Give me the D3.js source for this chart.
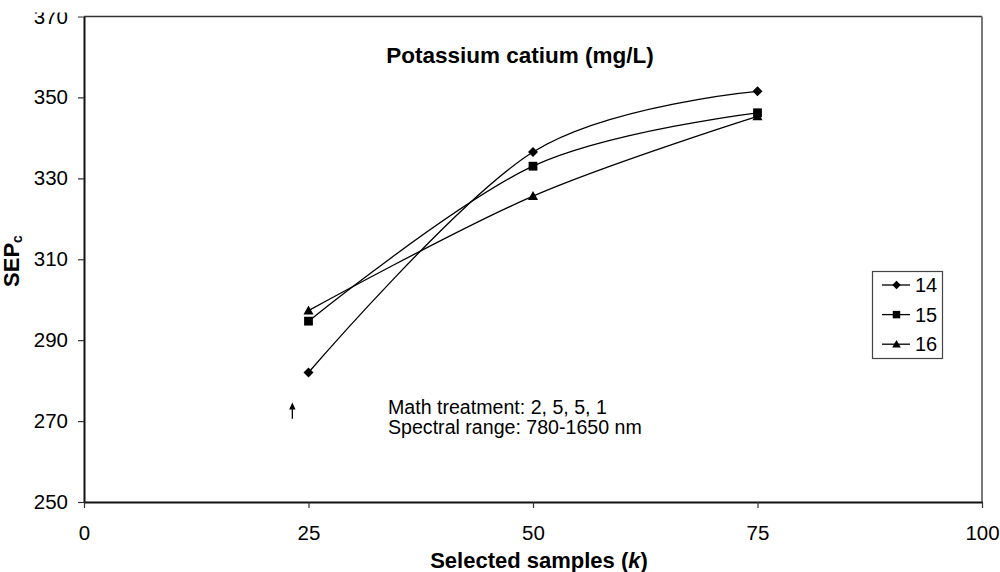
<!DOCTYPE html>
<html>
<head>
<meta charset="utf-8">
<script src="https://cdn.jsdelivr.net/npm/d3@7"></script>
<style>
  body { margin: 0; background: #fff; }
  svg { font-family: "Liberation Sans", Arial, sans-serif; }
</style>
</head>
<body>
<div id="chart"></div>
<script>
// chart values
const samples = [25, 50, 75];
const seriesNames = ["14", "15", "16"];
const sep14 = [282, 336.5, 351.5];
const sep15 = [294.7, 333, 346.2];
const sep16 = [297.3, 325.6, 345.3];
const xTicks = [0, 25, 50, 75, 100];
const yTicks = [250, 270, 290, 310, 330, 350, 370];
const notes = ["Math treatment: 2, 5, 5, 1", "Spectral range: 780-1650 nm"];
const arrowAt = [23.2, 270.6, 274.6]; // x, y from, y to

const W = 1000, H = 572;

const svg = d3.select("#chart").append("svg")
    .attr("width", W)
    .attr("height", H);

const x = d3.scaleLinear().domain([0, 100]).range([84, 982]);
const y = d3.scaleLinear().domain([250, 370]).range([502, 16.5]);

// clip for the cut-off top label (in the axis group's own coordinates)
svg.append("clipPath").attr("id", "topcut")
  .append("rect").attr("x", -100).attr("y", 12.5).attr("width", W).attr("height", H);

// frame: top and right
svg.append("line")
    .attr("x1", x(0)).attr("x2", x(100))
    .attr("y1", y(370)).attr("y2", y(370))
    .attr("stroke", "#333").attr("stroke-width", 1.5);
svg.append("line")
    .attr("x1", x(100)).attr("x2", x(100))
    .attr("y1", y(370)).attr("y2", y(250))
    .attr("stroke", "#7a7a7a").attr("stroke-width", 2);

// axes
const yAxis = svg.append("g")
    .attr("transform", `translate(${x(0)},0)`)
    .attr("clip-path", "url(#topcut)")
    .call(d3.axisLeft(y).tickValues(yTicks).tickSize(6).tickPadding(10).tickSizeOuter(0));
const xAxis = svg.append("g")
    .attr("transform", `translate(0,${y(250)})`)
    .call(d3.axisBottom(x).tickValues(xTicks).tickSize(6).tickPadding(17).tickSizeOuter(0));

[xAxis, yAxis].forEach(g => {
  g.select(".domain").attr("stroke", "#111").attr("stroke-width", 2);
  g.selectAll(".tick line").attr("stroke", "#333").attr("stroke-width", 1.2);
  g.selectAll(".tick text")
    .attr("fill", "#000")
    .style("font-size", "20.5px")
    .style("font-family", "'Liberation Sans', Arial, sans-serif");
});

// marker shapes
const diamond = { draw(ctx, r) { ctx.moveTo(0, -r); ctx.lineTo(r, 0); ctx.lineTo(0, r); ctx.lineTo(-r, 0); ctx.closePath(); } };
const square = { draw(ctx, r) { ctx.rect(-r, -r, 2 * r, 2 * r); } };
const triangle = { draw(ctx, r) { ctx.moveTo(0, -r * 1.05); ctx.lineTo(r * 1.05, r * 0.8); ctx.lineTo(-r * 1.05, r * 0.8); ctx.closePath(); } };

const series = [
  { name: seriesNames[0], values: sep14, shape: diamond, size: 5 },
  { name: seriesNames[1], values: sep15, shape: square, size: 4.4 },
  { name: seriesNames[2], values: sep16, shape: triangle, size: 4.8 }
];

const line = d3.line()
    .x((d, i) => x(samples[i]))
    .y(d => y(d))
    .curve(d3.curveCardinal.tension(0));

series.forEach(s => {
  svg.append("path")
      .attr("d", line(s.values))
      .attr("fill", "none")
      .attr("stroke", "#000")
      .attr("stroke-width", 1.3);
});
series.forEach(s => {
  svg.append("g")
    .selectAll("path")
    .data(s.values)
    .enter()
    .append("path")
      .attr("transform", (d, i) => `translate(${x(samples[i])},${y(d)})`)
      .attr("d", d3.symbol().type(s.shape).size(s.size))
      .attr("fill", "#000");
});

// title
svg.append("text")
    .attr("x", 520).attr("y", 63)
    .attr("text-anchor", "middle")
    .style("font-size", "22.5px")
    .style("font-weight", "bold")
    .text("Potassium catium (mg/L)");

// notes
svg.append("g").selectAll("text")
  .data(notes)
  .enter()
  .append("text")
    .attr("x", 388)
    .attr("y", (d, i) => 414 + i * 19.5)
    .style("font-size", "19.6px")
    .text(d => d);

// arrow
svg.append("line")
    .attr("x1", x(arrowAt[0])).attr("x2", x(arrowAt[0]))
    .attr("y1", y(arrowAt[1])).attr("y2", y(arrowAt[2]) + 5)
    .attr("stroke", "#000").attr("stroke-width", 1.3);
svg.append("path")
    .attr("transform", `translate(${x(arrowAt[0])},${y(arrowAt[2])})`)
    .attr("d", "M0,0 L3.2,7 L-3.2,7 Z")
    .attr("fill", "#000");

// axis titles
const yLab = svg.append("text")
    .attr("transform", "translate(19,261) rotate(-90)")
    .attr("text-anchor", "middle")
    .style("font-size", "22px")
    .style("font-weight", "bold");
yLab.append("tspan").text("SEP");
yLab.append("tspan").attr("dy", 3).style("font-size", "14px").text("c");

const xLab = svg.append("text")
    .attr("x", 539).attr("y", 568)
    .attr("text-anchor", "middle")
    .style("font-size", "22px")
    .style("font-weight", "bold");
xLab.append("tspan").text("Selected samples (");
xLab.append("tspan").style("font-style", "italic").text("k");
xLab.append("tspan").text(")");

// legend
const legend = svg.append("g");
legend.append("rect")
    .attr("x", 872.5).attr("y", 271.5)
    .attr("width", 70).attr("height", 87)
    .attr("fill", "#fff")
    .attr("stroke", "#444").attr("stroke-width", 1.2);
const items = legend.selectAll("g.item")
  .data(series)
  .enter()
  .append("g")
    .attr("transform", (d, i) => `translate(0,${285 + i * 29.6})`);
items.append("line")
    .attr("x1", 882).attr("x2", 910)
    .attr("stroke", "#000").attr("stroke-width", 1.3);
items.append("path")
    .attr("transform", "translate(896.5,0)")
    .attr("d", d => d3.symbol().type(d.shape).size(d.size * 0.85)())
    .attr("fill", "#000");
items.append("text")
    .attr("x", 915).attr("dy", "0.36em")
    .style("font-size", "20px")
    .text(d => d.name);
</script>
</body>
</html>
